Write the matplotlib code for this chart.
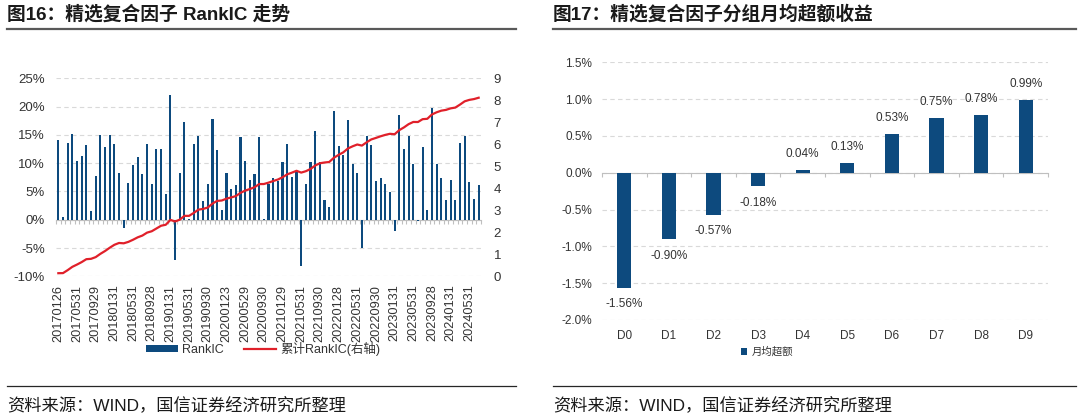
import numpy as np
import matplotlib
matplotlib.use('Agg')
import matplotlib.pyplot as plt
from matplotlib.lines import Line2D
from matplotlib.patches import Patch
from matplotlib.ticker import FixedLocator, FuncFormatter, NullLocator

plt.rcParams['font.family'] = ['Liberation Sans', 'Noto Sans CJK SC', 'DejaVu Sans']
plt.rcParams['axes.unicode_minus'] = False

BLUE = '#0D4A7E'
RED = '#E0202A'
GRID = '#D9D9D9'
AXIS = '#BFBFBF'
TEXT = '#333333'

# monthly RankIC (%), 2017-01 .. 2024-07
rank_ic = [
    14.1, 0.4, 13.5, 15.1, 10.3, 11.2, 13.2, 1.6, 7.8, 14.9,
    12.8, 14.9, 13.4, 8.3, -1.5, 6.5, 9.7, 11.0, 8.0, 13.3,
    6.3, 12.5, 12.5, 4.5, 22.1, -7.2, 8.2, 17.3, 0.1, 13.4,
    14.8, 3.3, 6.3, 17.8, 12.4, 1.8, 8.3, 5.5, 6.2, 14.6,
    10.3, 7.1, 8.0, 14.6, 0.2, 6.3, 7.3, 6.8, 10.2, 13.4,
    7.6, 8.6, -8.2, 6.3, 10.2, 15.7, 10.2, 3.5, 2.2, 19.3,
    13.0, 11.4, 17.7, 9.9, 8.3, -5.0, 14.8, 13.2, 6.9, 7.4,
    6.4, 4.9, -2.0, 18.6, 12.5, 14.8, 9.9, -0.2, 12.9, 1.7,
    19.8, 9.8, 7.4, 3.5, 7.0, 3.5, 13.6, 14.8, 6.6, 3.7,
    6.1,
]
tick_dates = [
    '20170126', '20170531', '20170929', '20180131', '20180531', '20180928',
    '20190131', '20190531', '20190930', '20200123', '20200529', '20200930',
    '20210129', '20210531', '20210930', '20220128', '20220531', '20220930',
    '20230131', '20230531', '20230928', '20240131', '20240531',
]
tick_step = 4

groups = ['D0', 'D1', 'D2', 'D3', 'D4', 'D5', 'D6', 'D7', 'D8', 'D9']
group_excess = [-1.56, -0.90, -0.57, -0.18, 0.04, 0.13, 0.53, 0.75, 0.78, 0.99]

W, H = 1080, 419
fig = plt.figure(figsize=(W / 100, H / 100), dpi=100)


def fx(px):
    return px / W


def fy(py):
    return 1 - py / H


def style_zero_axis(ax, n):
    for side in ('top', 'left', 'right'):
        ax.spines[side].set_visible(False)
    ax.spines['bottom'].set_position(('data', 0))
    ax.spines['bottom'].set_color(AXIS)
    ax.spines['bottom'].set_linewidth(0.8)
    ax.set_xlim(-0.5, n - 0.5)
    ax.xaxis.set_major_locator(NullLocator())
    ax.xaxis.set_minor_locator(FixedLocator(np.arange(-0.5, n, 1)))
    ax.tick_params(axis='x', which='minor', length=3, width=0.8, color=AXIS, direction='out')
    ax.grid(axis='y', linestyle=(0, (4, 3)), color=GRID, linewidth=0.8)
    ax.set_axisbelow(True)


# ---- left: RankIC ----
ax = fig.add_axes([fx(56), fy(276.3), fx(481 - 56), fy(78.3) - fy(276.3)])
x = np.arange(len(rank_ic))
ax.bar(x, rank_ic, width=0.45, color=BLUE, zorder=3)
ax.set_ylim(-10, 25)
ax.set_yticks(range(-10, 26, 5))
ax.yaxis.set_major_formatter(FuncFormatter(lambda v, _: f'{v:.0f}%'))
ax.tick_params(axis='y', length=0, pad=8, labelsize=9.5, labelcolor=TEXT)
style_zero_axis(ax, len(rank_ic))

sec = ax.secondary_xaxis('bottom')
sec.set_xticks(x[::tick_step][:len(tick_dates)], tick_dates, rotation=90)
sec.tick_params(length=0, pad=6, labelsize=9.2, labelcolor=TEXT)
sec.spines['bottom'].set_visible(False)

ax2 = ax.twinx()
ax2.plot(x, np.cumsum(rank_ic) / 100, color=RED, linewidth=1.6)
ax2.set_ylim(0, 9)
ax2.set_yticks(range(10))
ax2.tick_params(axis='y', length=0, pad=9, labelsize=9.5, labelcolor=TEXT)
for s in ax2.spines.values():
    s.set_visible(False)

fig.legend(
    handles=[Patch(facecolor=BLUE), Line2D([], [], color=RED, linewidth=1.6)],
    labels=['RankIC', '累计RankIC(右轴)'],
    loc='center', bbox_to_anchor=(fx(263), fy(349)), ncol=2, frameon=False,
    fontsize=9, handlelength=2.6, handleheight=0.45, handletextpad=0.3,
    columnspacing=1.6, labelcolor=TEXT,
)

# ---- right: group excess ----
axr = fig.add_axes([fx(602), fy(320), fx(1048 - 602), fy(62.3) - fy(320)])
gx = np.arange(len(groups))
axr.bar(gx, group_excess, width=0.32, color=BLUE, zorder=3)
axr.set_ylim(-2.0, 1.5)
axr.set_yticks(np.arange(-2.0, 1.51, 0.5))
axr.yaxis.set_major_formatter(FuncFormatter(lambda v, _: f'{v:.1f}%'))
axr.tick_params(axis='y', length=0, pad=7, labelsize=8.5, labelcolor=TEXT)
style_zero_axis(axr, len(groups))

secr = axr.secondary_xaxis('bottom')
secr.set_xticks(gx, groups)
secr.tick_params(length=0, pad=7, labelsize=8.5, labelcolor=TEXT)
secr.spines['bottom'].set_visible(False)

for i, v in enumerate(group_excess):
    axr.annotate(f'{v:.2f}%', (i, v), xytext=(0, 11.5 if v >= 0 else -12),
                 textcoords='offset points', ha='center', va='center',
                 fontsize=8.5, color=TEXT)

fig.legend(
    handles=[Patch(facecolor=BLUE)], labels=['月均超额'],
    loc='center', bbox_to_anchor=(fx(767), fy(352)), frameon=False,
    fontsize=7.5, handlelength=0.6, handleheight=0.6, handletextpad=0.4,
    labelcolor=TEXT,
)

# ---- titles, rules, source ----
fig.text(fx(7), fy(14), '图16：精选复合因子 RankIC 走势', fontsize=13.5,
         fontweight='bold', color='#1A1A1A', ha='left', va='center')
fig.text(fx(553), fy(14), '图17：精选复合因子分组月均超额收益', fontsize=13.5,
         fontweight='bold', color='#1A1A1A', ha='left', va='center')
for x0, x1 in ((7, 516), (553, 1076)):
    fig.add_artist(Line2D([fx(x0), fx(x1)], [fy(29.5)] * 2, color='#595959', linewidth=1.6))
    fig.add_artist(Line2D([fx(x0), fx(x1)], [fy(386)] * 2, color='#262626', linewidth=0.9))
for x0 in (7, 553):
    fig.text(fx(x0), fy(406), '资料来源：WIND，国信证券经济研究所整理', fontsize=12.4,
             color='#1A1A1A', ha='left', va='center')

fig.savefig('out.png', dpi=100)
